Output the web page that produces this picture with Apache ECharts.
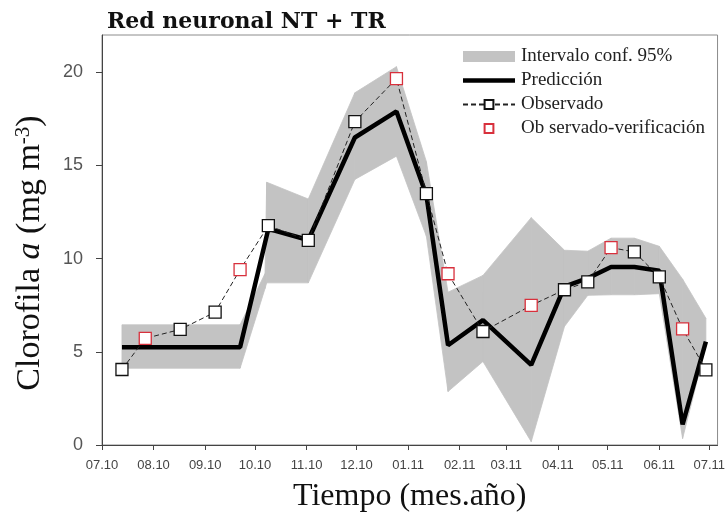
<!DOCTYPE html>
<html>
<head>
<meta charset="utf-8">
<script src="https://cdn.jsdelivr.net/npm/echarts@6/dist/echarts.min.js"></script>
<style>
  html, body { margin: 0; padding: 0; background: #ffffff; }
  #chart { width: 728px; height: 528px; }
</style>
</head>
<body>
<div id="chart"></div>
<script>
// Sampling dates (chlorophyll measurements)
const sampleDates = [
  '2010-07-13', '2010-07-27', '2010-08-17', '2010-09-07', '2010-09-22',
  '2010-10-09', '2010-11-02', '2010-11-30', '2010-12-25', '2011-01-12',
  '2011-01-25', '2011-02-15', '2011-03-16', '2011-04-05', '2011-04-19',
  '2011-05-03', '2011-05-17', '2011-06-01', '2011-06-15', '2011-06-29'
];
// Observed chlorophyll a (mg m-3)
const observed = [
  4.05, 5.72, 6.2, 7.13, 9.41,
  11.77, 10.98, 17.35, 19.66, 13.49,
  9.19, 6.09, 7.49, 8.33, 8.75,
  10.59, 10.36, 9.02, 6.23, 4.03
];
// 1 = sample held out for verification
const checkFlags = [
  0, 1, 0, 0, 1,
  0, 0, 0, 1, 0,
  1, 0, 1, 0, 0,
  1, 0, 0, 1, 0
];
// Neural network prediction
const predicted = [
  5.25, 5.25, 5.25, 5.25, 5.25,
  11.6, 11.0, 16.5, 17.9, 13.4,
  5.35, 6.7, 4.3, 8.5, 8.95,
  9.55, 9.55, 9.35, 1.1, 5.55
];
// 95 % confidence band
const bandDates = [
  '2010-07-13', '2010-09-22', '2010-10-07', '2010-10-08', '2010-11-02',
  '2010-11-30', '2010-12-25', '2011-01-12', '2011-01-25', '2011-02-15',
  '2011-03-16', '2011-04-05', '2011-04-19', '2011-05-03', '2011-05-17',
  '2011-06-01', '2011-06-15', '2011-06-29'
];
const ciLower = [
  4.12, 4.12, 8.4, 8.7, 8.7,
  14.25, 15.5, 11.2, 2.87, 4.48,
  0.18, 6.36, 8.03, 8.06, 8.06,
  8.12, 0.35, 5.3
];
const ciUpper = [
  6.45, 6.45, 9.2, 14.1, 13.2,
  18.9, 20.3, 15.2, 8.2, 9.1,
  12.2, 10.45, 10.4, 11.1, 11.1,
  10.66, 8.9, 6.8
];
// Axis ticks
const monthTicks = [
  '2010-07-01', '2010-08-01', '2010-09-01', '2010-10-01', '2010-11-01',
  '2010-12-01', '2011-01-01', '2011-02-01', '2011-03-01', '2011-04-01',
  '2011-05-01', '2011-06-01', '2011-07-01'
];
const xStart = '2010-07-01';
const xEnd = '2011-07-06';
const yTicks = [0, 5, 10, 15, 20];

const serif = 'Liberation Serif';
const sans = 'Liberation Sans';
const bandColor = '#c3c3c3';

// dates are placed on a numeric axis as UTC milliseconds
const t = s => Date.parse(s + 'T00:00:00Z');
const pad2 = n => (n < 10 ? '0' : '') + n;
const monthLabel = ms => {
  const d = new Date(ms);
  return pad2(d.getUTCMonth() + 1) + '.' + pad2(d.getUTCFullYear() % 100);
};

const checkDates = sampleDates.filter((d, i) => checkFlags[i]);
const checkValues = observed.filter((v, i) => checkFlags[i]);

// one quad of the confidence band between consecutive band dates
function renderBand(params, api) {
  const i = params.dataIndex;
  if (i >= bandDates.length - 1) return null;
  const a = t(bandDates[i]);
  const b = t(bandDates[i + 1]);
  const pts = [
    api.coord([a, ciUpper[i]]),
    api.coord([b, ciUpper[i + 1]]),
    api.coord([b, ciLower[i + 1]]),
    api.coord([a, ciLower[i]])
  ];
  return {
    type: 'polygon',
    shape: { points: pts },
    style: { fill: bandColor, stroke: bandColor, lineWidth: 0.8 }
  };
}

const chart = echarts.init(document.getElementById('chart'), null, { renderer: 'canvas' });

chart.setOption({
  animation: false,
  backgroundColor: '#ffffff',
  title: {
    text: 'Red neuronal NT + TR',
    left: 102,
    top: 6,
    textStyle: { fontFamily: 'DejaVu Serif', fontWeight: 'bold', fontSize: 22, color: '#111' }
  },
  grid: {
    left: 102, right: 6, top: 35, bottom: 83,
    show: true, borderColor: '#8c8c8c', borderWidth: 1, backgroundColor: 'transparent'
  },
  legend: {
    orient: 'vertical',
    left: 457,
    top: 42,
    itemWidth: 52,
    itemHeight: 11,
    itemGap: 5,
    textStyle: { fontFamily: serif, fontSize: 19, color: '#222', lineHeight: 18, padding: [0, 0, 0, 1] },
    data: [
      { name: 'Intervalo conf. 95%', icon: 'rect' },
      { name: 'Predicción', icon: 'path://M0,0H52V4.5H0Z' },
      { name: 'Observado' },
      { name: 'Ob servado-verificación' }
    ]
  },
  xAxis: {
    type: 'value',
    min: t(xStart),
    max: t(xEnd),
    name: 'Tiempo (mes.año)',
    nameLocation: 'middle',
    nameGap: 36,
    nameTextStyle: { fontFamily: serif, fontSize: 32, color: '#111' },
    axisLine: { lineStyle: { color: '#444', width: 1 } },
    axisTick: { show: true, length: 5, customValues: monthTicks.map(t), lineStyle: { color: '#444' } },
    axisLabel: {
      customValues: monthTicks.map(t),
      margin: 14,
      fontFamily: sans, fontSize: 13, color: '#444',
      formatter: v => monthLabel(v)
    },
    splitLine: { show: false }
  },
  yAxis: {
    type: 'value',
    min: 0,
    max: 22,
    name: '{n|Clorofila }{i|a}{n| (mg m}{s|-3}{n|)}',
    nameLocation: 'middle',
    nameGap: 55,
    nameTextStyle: {
      fontFamily: serif, fontSize: 34, color: '#111',
      padding: [0, 26, 0, 0],
      rich: {
        n: { fontFamily: serif, fontSize: 34, color: '#111', verticalAlign: 'bottom' },
        i: { fontFamily: serif, fontSize: 34, color: '#111', fontStyle: 'italic', verticalAlign: 'bottom' },
        s: { fontFamily: serif, fontSize: 21, color: '#111', verticalAlign: 'top' }
      }
    },
    axisLine: { show: true, lineStyle: { color: '#444', width: 1 } },
    axisTick: { show: true, length: 6, customValues: yTicks, lineStyle: { color: '#444' } },
    axisLabel: { customValues: yTicks, margin: 19, fontFamily: sans, fontSize: 18, color: '#555' },
    splitLine: { show: false }
  },
  series: [
    {
      name: 'Intervalo conf. 95%',
      type: 'custom',
      data: bandDates.map((d, i) => [t(d), ciLower[i], ciUpper[i]]),
      encode: { x: 0, y: [1, 2] },
      itemStyle: { color: bandColor },
      renderItem: renderBand,
      silent: true,
      z: 1
    },
    {
      name: 'Predicción',
      type: 'line',
      data: sampleDates.map((d, i) => [t(d), predicted[i]]),
      symbol: 'none',
      itemStyle: { color: '#000' },
      lineStyle: { color: '#000', width: 4.5 },
      z: 3
    },
    {
      name: 'Observado',
      type: 'line',
      data: sampleDates.map((d, i) =>
        checkFlags[i] ? { value: [t(d), observed[i]], symbol: 'none' } : [t(d), observed[i]]),
      symbol: 'rect',
      symbolSize: 12,
      lineStyle: { color: '#222', width: 1, type: [5, 3] },
      itemStyle: { color: '#ffffff', borderColor: '#111', borderWidth: 1.3 },
      z: 4
    },
    {
      name: 'Ob servado-verificación',
      type: 'line',
      data: checkDates.map((d, i) => [t(d), checkValues[i]]),
      symbol: 'rect',
      symbolSize: 12,
      lineStyle: { width: 0, opacity: 0 },
      itemStyle: { color: '#ffffff', borderColor: '#d8303c', borderWidth: 1.3 },
      z: 5
    }
  ]
});
</script>
</body>
</html>
